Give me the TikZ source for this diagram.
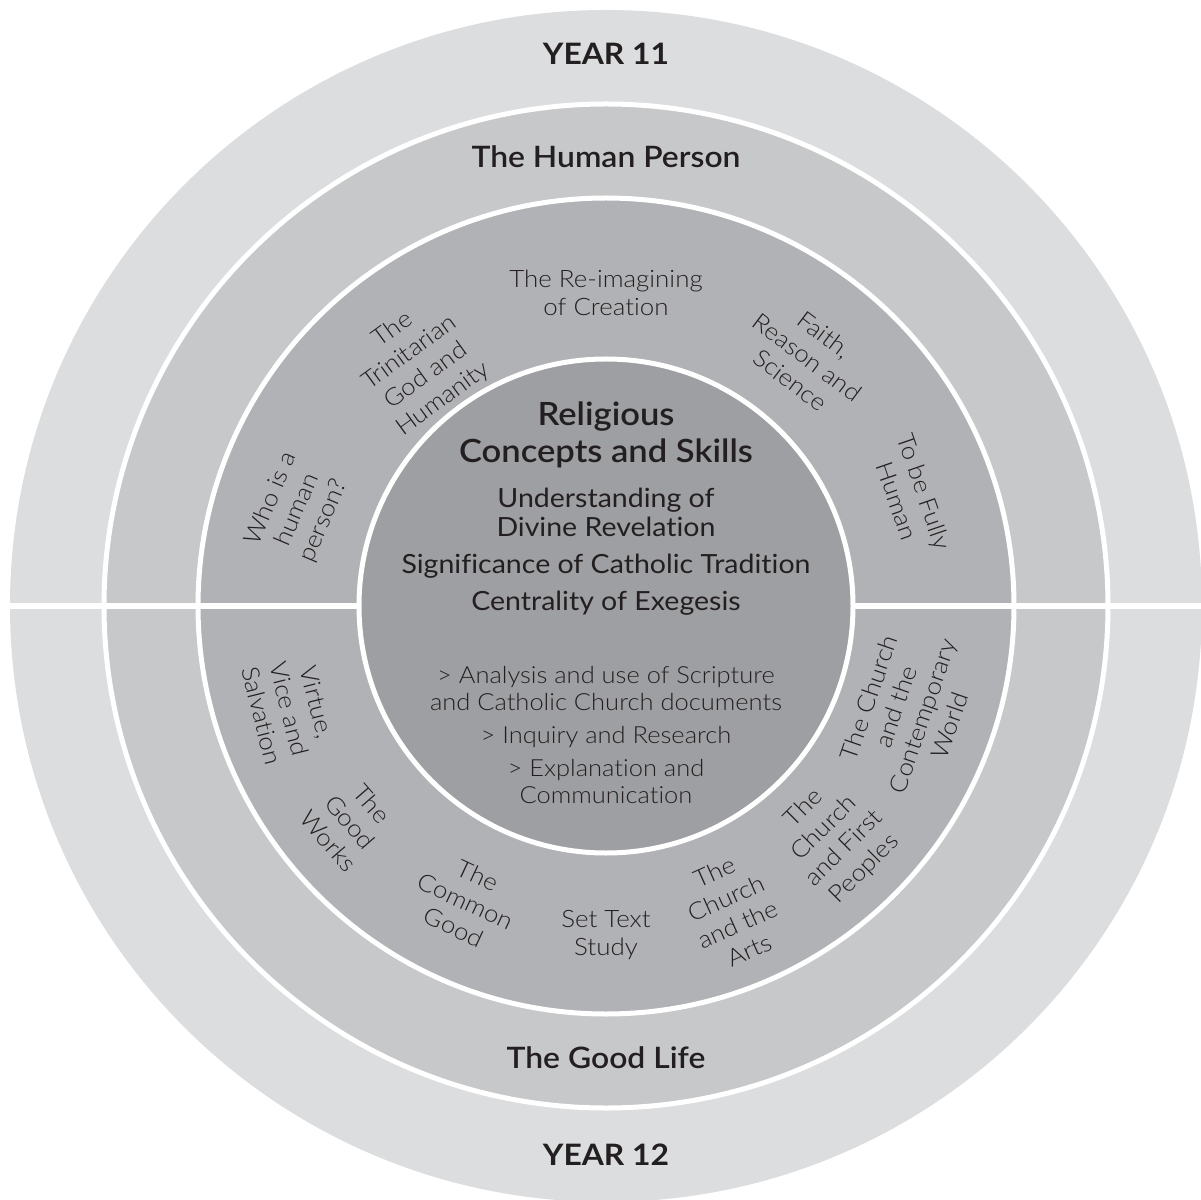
\documentclass[tikz,border=0pt]{standalone}
\usepackage{fontspec}
\setmainfont{Lato}[Ligatures=NoCommon, FakeStretch=1.08]
\newfontfamily\lightfont{Lato Light}[Ligatures=NoCommon, FakeStretch=1.08]
\newfontfamily\semifont{Lato Semibold}[Ligatures=NoCommon, FakeStretch=1.08]
\definecolor{ink}{HTML}{231F20}
\definecolor{yearring}{HTML}{DCDDDE}
\definecolor{strandring}{HTML}{C7C8CA}
\definecolor{topicring}{HTML}{B1B2B5}
\definecolor{core}{HTML}{9E9FA2}
\begin{document}
\begin{tikzpicture}[x=1pt,y=1pt,
  every node/.style={text=ink, inner sep=0pt},
  sep/.style={draw=white, line width=5pt},
  yeartxt/.style={font=\bfseries\fontsize{29.5}{36}\selectfont, anchor=base},
  strandtxt/.style={font=\semifont\fontsize{29.5}{35}\selectfont, anchor=base},
  headtxt/.style={font=\semifont\fontsize{32}{37}\selectfont, anchor=base},
  conctxt/.style={font=\fontsize{26.4}{29}\selectfont, anchor=base},
  skilltxt/.style={font=\lightfont\fontsize{23.6}{27}\selectfont, anchor=base},
  topic/.style={font=\lightfont\fontsize{24}{28.5}\selectfont, align=center},
]
\useasboundingbox (-606,-593) rectangle (595,606);

% rings, outermost first
\fill[yearring] (0,0) circle[radius=596pt];
\filldraw[fill=strandring, sep] (0,0) circle[radius=502pt];
\filldraw[fill=topicring, sep] (0,0) circle[radius=408pt];
% division between the two years
\draw[white, line width=6pt] (-606,0) -- (595,0);
\filldraw[fill=core, sep] (0,0) circle[radius=247pt];

% year labels
\node[yeartxt] (y11) at (0,541) {YEAR 11};
\node[yeartxt] (y12) at (0,-559) {YEAR 12};

% strand labels
\node[strandtxt] (human) at (0,438) {The Human Person};
\node[strandtxt] (goodlife) at (0,-462) {The Good Life};

% core
\node[headtxt] (rel1) at (0,180) {Religious};
\node[headtxt] (rel2) at (0,143) {Concepts and Skills};
\node[conctxt] (c1) at (0,98) {Understanding of};
\node[conctxt] (c2) at (0,69) {Divine Revelation};
\node[conctxt] (c3) at (0,32) {Significance of Catholic Tradition};
\node[conctxt] (c4) at (0,-4) {Centrality of Exegesis};
\node[skilltxt] (s1) at (0,-77) {> Analysis and use of Scripture};
\node[skilltxt] (s2) at (0,-104) {and Catholic Church documents};
\node[skilltxt] (s3) at (0,-137) {> Inquiry and Research};
\node[skilltxt] (s4) at (0,-170) {> Explanation and};
\node[skilltxt] (s5) at (0,-197) {Communication};

% Year 11 topics
\node[topic] (reimag) at (0,313) {The Re-imagining\\of Creation};
\node[topic, rotate=36] (trinity) at (127.9:306) {The\\Trinitarian\\God and\\Humanity};
\node[topic, rotate=67] (who) at (162.7:323) {Who is a\\human\\person?};
\node[topic, rotate=-37] (faith) at (51:320) {Faith,\\Reason and\\Science};
\node[topic, rotate=-71] (fully) at (19.8:324) {To be Fully\\Human};

% Year 12 topics
\node[topic, rotate=-76] (virtue) at (198:333) {Virtue,\\Vice and\\Salvation};
\node[topic, rotate=-49] (works) at (220.2:335) {The\\Good\\Works};
\node[topic, rotate=-25] (common) at (244.6:327) {The\\Common\\Good};
\node[topic] (settext) at (0,-329) {Set Text\\Study};
\node[topic, rotate=24] (arts) at (292.4:330) {The\\Church\\and the\\Arts};
\node[topic, rotate=45] (peoples) at (314.5:326) {The\\Church\\and First\\Peoples};
\node[topic, rotate=71] (world) at (340.8:321) {The Church\\and the\\Contemporary\\World};
\end{tikzpicture}
\end{document}
